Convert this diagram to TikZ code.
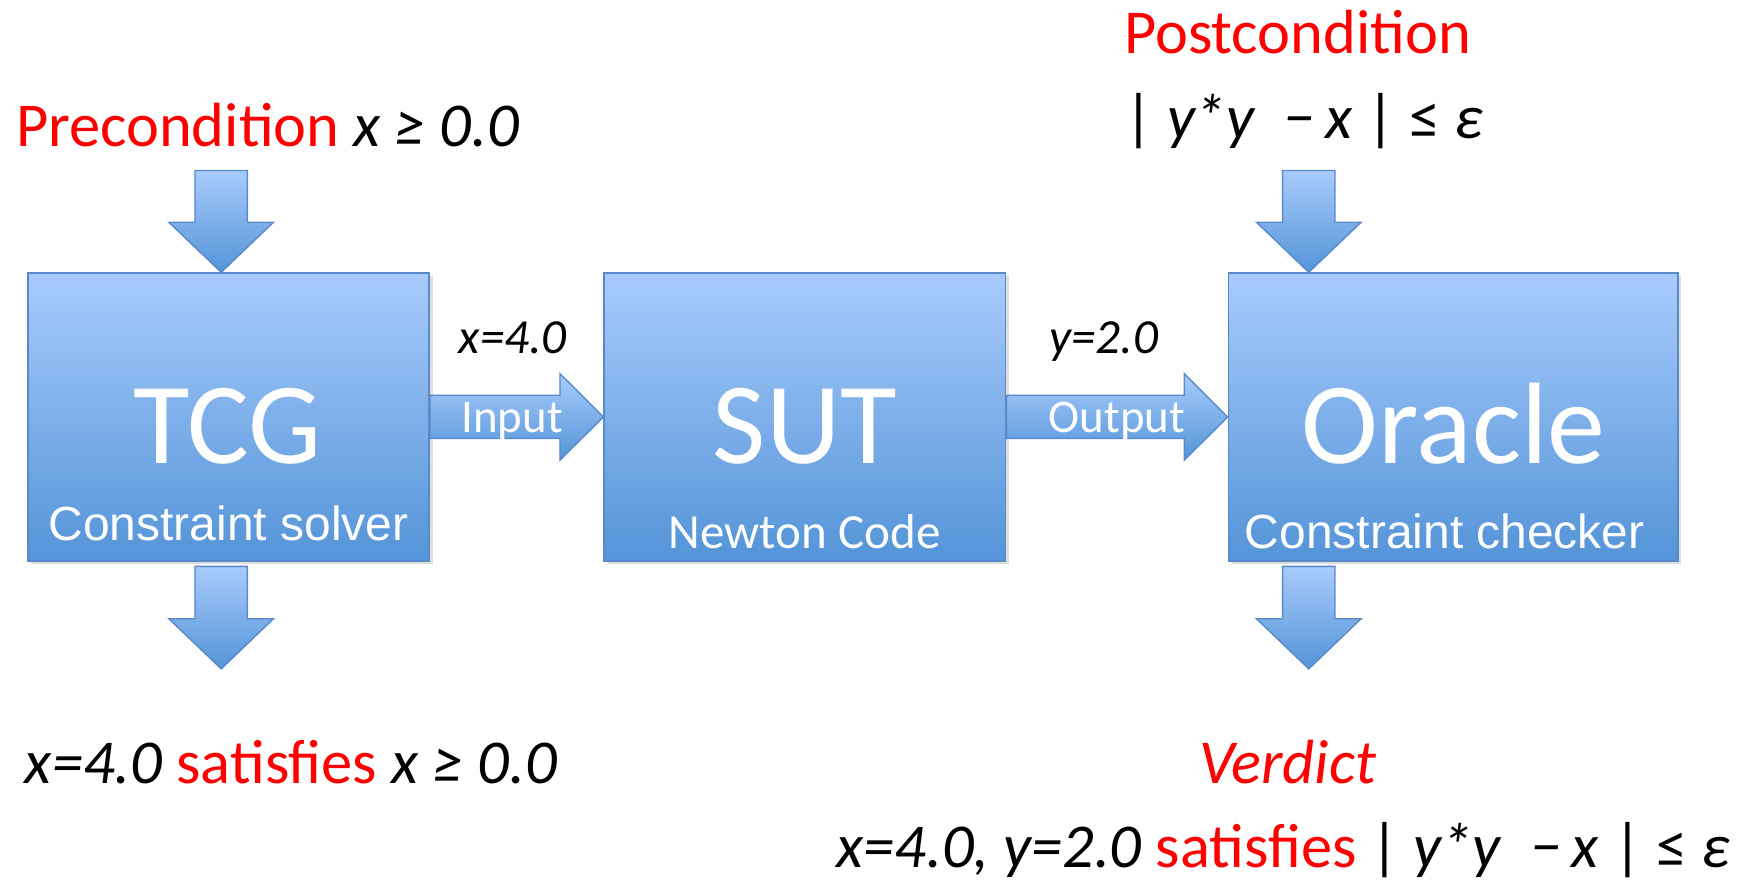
\documentclass[tikz,border=0pt]{standalone}
\usepackage{fontspec}
\setmainfont{Carlito}
\newfontfamily\arialfont{Liberation Sans}
\usetikzlibrary{calc,shadows}

\definecolor{boxtop}{RGB}{168,203,252}
\definecolor{boxbot}{RGB}{84,148,216}
\definecolor{boxline}{RGB}{88,137,200}

\tikzset{
  block/.style={draw=boxline, line width=0.7pt, top color=boxtop, bottom color=boxbot,
    minimum height=129pt, inner sep=0pt,
    drop shadow={opacity=0.25, shadow xshift=1.5pt, shadow yshift=-1.5pt}},
  fatarrow/.style={draw=boxline, line width=0.6pt, top color=boxtop, bottom color=boxbot,
    line join=miter},
  % block arrow pointing right, shaft 19.4pt, head 38.8pt wide
  fat right/.style={fatarrow, to path={let \p1=(\tikztostart), \p2=(\tikztotarget) in
    (\x1,\y1+9.7pt) -- (\x2-19.5pt,\y1+9.7pt) -- (\x2-19.5pt,\y1+19.4pt) -- (\x2,\y1)
    -- (\x2-19.5pt,\y1-19.4pt) -- (\x2-19.5pt,\y1-9.7pt) -- (\x1,\y1-9.7pt) -- cycle}},
  % block arrow pointing down
  fat down/.style={fatarrow, to path={let \p1=(\tikztostart), \p2=(\tikztotarget) in
    (\x1-11.75pt,\y1) -- (\x1+11.75pt,\y1) -- (\x1+11.75pt,\y2+22.5pt) -- (\x1+23.5pt,\y2+22.5pt)
    -- (\x1,\y2) -- (\x1-23.5pt,\y2+22.5pt) -- (\x1-11.75pt,\y2+22.5pt) -- cycle}},
  big/.style={text=white, font=\fontsize{52}{60}\selectfont, anchor=base, inner sep=0pt},
  sub/.style={text=white, font=\arialfont\fontsize{21.5}{26}\selectfont, anchor=base, inner sep=0pt},
  subc/.style={text=white, font=\fontsize{22}{26}\selectfont, anchor=base, inner sep=0pt},
  flow/.style={text=white, font=\fontsize{21}{25}\selectfont, anchor=base, inner sep=0pt},
  val/.style={font=\itshape\fontsize{22}{26}\selectfont, anchor=base, inner sep=0pt},
  cond/.style={font=\fontsize{28}{34}\selectfont, anchor=base west, inner sep=0pt},
}

\begin{document}
\begin{tikzpicture}[x=0.5pt, y=-0.5pt]
  \useasboundingbox (0,0) rectangle (1568,789);

  % the three blocks
  \node[block, minimum width=180pt] (tcg) at (205,374) {};
  \node[block, minimum width=180pt] (sut) at (722,374) {};
  \node[block, minimum width=201.5pt] (orc) at (1303.5,374) {};

  \node[big] (tcgname) at (204,415.5) {TCG};
  \node[sub] (tcgsub) at (205,484.5) {Constraint solver};
  \node[big] (sutname) at (722,415.5) {SUT};
  \node[subc] (sutsub) at (722,492) {Newton Code};
  \node[big] (orcname) at (1304,415.5) {Oracle};
  \node[sub] (orcsub) at (1296,492) {Constraint checker};

  % free ends of the vertical arrows
  \coordinate (pre) at (198.4,153);
  \coordinate (post) at (1174,153);
  \coordinate (tcgout) at (198.4,508);
  \coordinate (tcgres) at (198.4,600);
  \coordinate (orcout) at (1174,508);
  \coordinate (orcres) at (1174,600);

  \draw[fat down] (pre) to (pre |- tcg.north);
  \draw[fat down] (post) to (post |- orc.north);
  \draw[fat down] (tcgout) to (tcgres);
  \draw[fat down] (orcout) to (orcres);
  \draw[fat right] (tcg.east) to (sut.west);
  \draw[fat right] (sut.east) to (orc.west);

  \node[flow] (inlbl) at (459.5,388) {Input};
  \node[flow] (outlbl) at (1002,388) {Output};
  \node[val] (xval) at (460,317) {x=4.0};
  \node[val] (yval) at (990,317) {y=2.0};

  % conditions and results
  \node[cond] (precond) at (14,131.6) {\color{red}Precondition \color{black}\textit{x ≥ 0.0}};
  \node[cond] (posthead) at (1008,47.8) {\color{red}Postcondition};
  \node[cond] (postexpr) at (1008,124) {| \textit{y*y} \ \textit{−\,x} | ≤ \textit{ε}};
  \node[cond] (tcgok) at (22,703) {\textit{x=4.0} \color{red}satisfies \color{black}\textit{x ≥ 0.0}};
  \node[cond, anchor=base] (verdict) at (1155,703) {\color{red}\textit{Verdict}};
  \node[cond] (orcok) at (750,778) {\textit{x=4.0, y=2.0} \color{red}satisfies \color{black}| \textit{y*y} \ \textit{−\,x} | ≤ \textit{ε}};
\end{tikzpicture}
\end{document}
